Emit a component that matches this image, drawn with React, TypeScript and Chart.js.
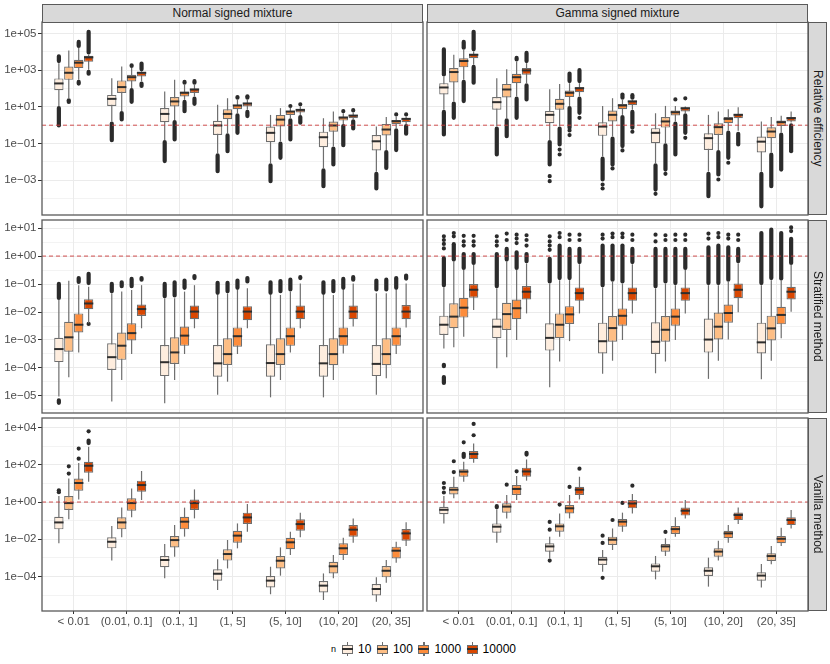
import { useEffect, useRef } from "react";
import { Chart, registerables } from "chart.js";
Chart.register(...registerables);

// all values are log10 of the plotted quantity
type Box = [number, number, number, number, number]; // lower whisker, q1, median, q3, upper whisker
type Seg = [number, number]; // run of outliers; a single dot when both ends are equal

const categories = ["< 0.01", "(0.01, 0.1]", "(0.1, 1]", "(1, 5]", "(5, 10]", "(10, 20]", "(20, 35]"];
const sampleSizes = ["10", "100", "1000", "10000"];
const columnLabels = ["Normal signed mixture", "Gamma signed mixture"];
const rowLabels = ["Relative efficiency", "Stratified method", "Vanilla method"];
const refValue = 1;

// ---------- Relative efficiency ----------
const relNormal: Box[][] = [
  [[1.05, 1.91, 2.22, 2.55, 3.38], [0.2, 1.05, 1.38, 1.65, 2.56], [-0.8, 0.16, 0.56, 0.93, 1.84], [-1.53, -0.53, -0.07, 0.24, 1.11], [-2.07, -0.93, -0.47, -0.07, 0.56], [-2.35, -1.2, -0.71, -0.35, 0.38], [-2.53, -1.38, -0.93, -0.53, -0.07]],
  [[1.47, 2.47, 2.8, 3.2, 4.07], [0.78, 1.75, 2.02, 2.44, 3.2], [0.29, 1.02, 1.24, 1.53, 2.47], [-0.44, 0.33, 0.56, 0.87, 1.47], [-0.89, -0.07, 0.25, 0.56, 0.93], [-1.16, -0.35, -0.07, 0.2, 0.75], [-1.35, -0.56, -0.29, 0.07, 0.44]],
  [[2.47, 3.11, 3.35, 3.56, 4.2], [2.02, 2.38, 2.56, 2.75, 3.11], [1.38, 1.56, 1.71, 1.84, 2.2], [0.65, 0.87, 1.02, 1.11, 1.38], [0.38, 0.56, 0.69, 0.78, 0.93], [0.07, 0.25, 0.36, 0.47, 0.65], [-0.16, 0.05, 0.16, 0.29, 0.47]],
  [[3.02, 3.45, 3.64, 3.78, 3.85], [2.38, 2.65, 2.8, 2.89, 2.93], [1.56, 1.75, 1.89, 2.0, 2.2], [0.84, 1.02, 1.13, 1.2, 1.38], [0.56, 0.69, 0.78, 0.87, 1.02], [0.33, 0.38, 0.47, 0.56, 0.69], [0.07, 0.16, 0.29, 0.38, 0.47]],
];
const relNormalOut: Seg[][][] = [
  [[[3.38, 3.87], [-0.13, 1.05]], [[-0.93, 0.2]], [[-2.07, -0.8]], [[-2.62, -1.53]], [[-3.16, -2.07]], [[-3.44, -2.35]], [[-3.56, -2.53]]],
  [[[1.15, 1.47]], [[0.2, 0.78]], [[-0.89, 0.29]], [[-1.53, -0.44]], [[-1.89, -0.89]], [[-2.25, -1.16]], [[-2.44, -1.35]]],
  [[[4.2, 4.65], [2.15, 2.47]], [[3.11, 3.38], [1.16, 2.02]], [[2.2, 2.47], [0.65, 1.38]], [[1.38, 1.65], [-0.53, 0.65]], [[0.93, 1.16], [-0.89, 0.38]], [[0.65, 0.84], [-1.2, 0.07]], [[0.47, 0.51], [-1.47, -0.16]]],
  [[[3.85, 5.2], [2.69, 3.02]], [[2.93, 3.47], [2.02, 2.38]], [[2.2, 2.51], [1.05, 1.56]], [[1.38, 1.69], [0.38, 0.84]], [[1.02, 1.16], [0.02, 0.56]], [[0.69, 0.93], [-0.29, 0.33]], [[0.47, 0.56], [-0.58, 0.07]]],
];
const relGamma: Box[][] = [
  [[0.84, 1.67, 2.0, 2.29, 2.65], [-0.07, 0.84, 1.2, 1.53, 2.56], [-0.8, 0.11, 0.51, 0.78, 1.96], [-1.71, -0.58, -0.13, 0.16, 1.05], [-2.07, -0.98, -0.47, -0.16, 0.65], [-2.53, -1.35, -0.76, -0.44, 0.56], [-2.53, -1.49, -0.95, -0.62, 0.2]],
  [[1.29, 2.33, 2.84, 3.11, 3.84], [0.38, 1.51, 1.89, 2.25, 3.05], [-0.07, 0.84, 1.11, 1.44, 2.25], [-0.62, 0.2, 0.51, 0.8, 1.47], [-0.98, -0.13, 0.15, 0.44, 1.05], [-1.35, -0.53, -0.16, 0.11, 0.75], [-1.49, -0.71, -0.4, -0.11, 0.44]],
  [[2.47, 3.15, 3.44, 3.65, 4.11], [1.56, 2.29, 2.56, 2.8, 3.47], [1.05, 1.53, 1.71, 1.89, 2.29], [0.56, 0.87, 1.02, 1.16, 1.38], [0.2, 0.53, 0.65, 0.8, 1.05], [-0.29, 0.11, 0.29, 0.44, 0.87], [-0.4, -0.04, 0.11, 0.25, 0.51]],
  [[3.29, 3.65, 3.78, 3.89, 4.02], [2.29, 2.75, 2.93, 3.11, 3.38], [1.56, 1.8, 1.96, 2.07, 2.29], [0.84, 1.09, 1.24, 1.35, 1.38], [0.65, 0.75, 0.87, 0.96, 1.02], [-0.3, 0.38, 0.51, 0.62, 0.98], [0.15, 0.2, 0.33, 0.44, 0.75]],
];
const relGammaOut: Seg[][][] = [
  [[[2.65, 4.24], [-0.62, 0.84]], [[-1.71, -0.07]], [[-2.25, -0.8], [-2.89, -2.89], [-3.16, -3.16]], [[-3.07, -1.71], [-3.35, -3.35], [-3.56, -3.56]], [[-3.62, -2.07], [-3.85, -3.85]], [[-3.98, -2.53]], [[-4.53, -2.53]]],
  [[[0.29, 1.29]], [[-0.71, 0.38]], [[-1.16, -0.07], [-1.44, -1.44], [-1.71, -1.71]], [[-2.25, -0.62], [-2.47, -2.47]], [[-2.53, -0.98], [-2.76, -2.76]], [[-2.8, -1.35], [-3.07, -3.07]], [[-3.44, -1.49]]],
  [[[4.11, 4.65], [1.2, 2.47]], [[3.47, 3.78], [0.29, 1.56]], [[2.29, 2.93], [-0.25, 1.05], [-0.4, -0.4], [-0.65, -0.65]], [[1.38, 1.78], [-1.25, 0.56], [-1.49, -1.49]], [[1.29, 1.29], [-1.71, 0.2]], [[-1.89, -0.29], [-2.16, -2.16]], [[-2.53, -0.4]]],
  [[[4.02, 5.2], [2.2, 3.29]], [[3.38, 4.05], [1.29, 2.29]], [[2.29, 3.11], [0.56, 1.56], [0.29, 0.29]], [[1.38, 1.75], [-0.25, 0.84], [-0.47, -0.47]], [[1.35, 1.35], [-0.53, 0.65], [-0.8, -0.8]], [[-1.16, -0.35]], [[-1.53, 0.1]]],
];

// ---------- Stratified method ----------
const stratNormal: Box[][] = [
  [[-5.02, -3.79, -3.36, -2.92, -1.57], [-5.2, -4.07, -3.65, -3.12, -1.33], [-5.26, -4.29, -3.83, -3.18, -1.51], [-4.96, -4.31, -3.87, -3.18, -1.39], [-5.05, -4.31, -3.86, -3.15, -1.39], [-5.05, -4.31, -3.87, -3.18, -1.39], [-4.96, -4.29, -3.89, -3.18, -1.33]],
  [[-4.33, -3.42, -2.94, -2.35, -0.88], [-4.43, -3.71, -3.24, -2.73, -1.27], [-4.43, -3.86, -3.48, -2.9, -1.51], [-4.49, -3.89, -3.54, -2.94, -1.33], [-4.43, -3.89, -3.54, -2.94, -1.39], [-4.43, -3.9, -3.54, -2.94, -1.39], [-4.37, -3.9, -3.54, -2.94, -1.33]],
  [[-3.45, -2.73, -2.49, -2.05, -1.04], [-3.5, -3.02, -2.79, -2.4, -1.21], [-3.5, -3.21, -2.88, -2.52, -1.27], [-3.5, -3.24, -2.9, -2.55, -1.21], [-3.45, -3.21, -2.9, -2.55, -1.27], [-3.48, -3.21, -2.9, -2.55, -1.21], [-3.5, -3.21, -2.9, -2.55, -1.21]],
  [[-2.4, -1.9, -1.73, -1.54, -1.1], [-2.58, -2.14, -1.93, -1.73, -1.04], [-2.58, -2.26, -2.02, -1.77, -1.04], [-2.58, -2.29, -2.02, -1.79, -1.15], [-2.58, -2.26, -2.02, -1.77, -0.98], [-2.52, -2.26, -2.02, -1.77, -0.98], [-2.55, -2.26, -2.02, -1.75, -0.98]],
];
const stratNormalOut: Seg[][][] = [
  [[[-1.57, -0.92], [-5.32, -5.08]], [[-1.33, -0.92]], [[-1.51, -0.92]], [[-1.39, -0.88]], [[-1.39, -0.86]], [[-1.39, -0.86]], [[-1.27, -0.8]]],
  [[], [[-1.15, -0.86]], [[-1.48, -0.86]], [[-1.33, -0.88]], [[-1.33, -0.82]], [[-1.33, -0.82]], [[-1.27, -0.77]]],
  [[[-1.0, -0.71]], [[-1.15, -0.74]], [[-1.21, -0.8]], [[-1.21, -0.8]], [[-1.27, -0.77]], [[-1.21, -0.74]], [[-1.21, -0.71]]],
  [[[-1.04, -0.56], [-2.5, -2.5]], [[-0.92, -0.71]], [[-0.86, -0.64]], [[-0.98, -0.71]], [[-0.86, -0.68]], [[-0.92, -0.68]], [[-0.88, -0.62]]],
];
const stratGamma: Box[][] = [
  [[-3.3, -2.82, -2.49, -2.13, -1.12], [-4.01, -2.94, -2.56, -2.23, -1.15], [-4.69, -3.38, -2.96, -2.4, -0.98], [-4.21, -3.48, -3.08, -2.38, -1.12], [-4.19, -3.5, -3.1, -2.37, -1.15], [-4.39, -3.45, -3.02, -2.23, -1.04], [-4.4, -3.48, -3.12, -2.38, -1.04]],
  [[-3.26, -2.58, -2.2, -1.69, -0.2], [-3.62, -2.64, -2.11, -1.67, -0.2], [-3.77, -2.94, -2.49, -2.05, -0.86], [-3.74, -3.06, -2.61, -2.14, -0.92], [-3.77, -3.06, -2.67, -2.14, -0.98], [-3.74, -2.98, -2.56, -2.02, -1.04], [-3.74, -3.02, -2.62, -2.13, -0.86]],
  [[-2.88, -2.2, -1.88, -1.49, -0.5], [-3.0, -2.26, -1.9, -1.55, -0.5], [-3.04, -2.43, -2.12, -1.79, -0.86], [-3.0, -2.49, -2.17, -1.87, -0.98], [-3.0, -2.49, -2.2, -1.87, -1.04], [-2.98, -2.38, -2.07, -1.73, -0.92], [-2.94, -2.44, -2.14, -1.81, -0.88]],
  [[-1.93, -1.49, -1.24, -1.0, -0.32], [-2.05, -1.55, -1.31, -1.07, -0.26], [-2.05, -1.6, -1.36, -1.12, -0.29], [-2.05, -1.6, -1.36, -1.12, -0.29], [-2.05, -1.6, -1.36, -1.12, -0.5], [-2.01, -1.51, -1.24, -0.98, -0.26], [-1.99, -1.55, -1.31, -1.1, -0.32]],
];
const stratGammaOut: Seg[][][] = [
  [[[-1.12, 0.0], [0.2, 0.2], [0.36, 0.36], [0.5, 0.5], [0.63, 0.63], [-4.01, -3.81], [-4.61, -4.25]], [[-1.15, 0.15], [0.3, 0.3], [0.45, 0.45], [0.63, 0.63]], [[-0.98, -0.02], [0.15, 0.15], [0.3, 0.3], [0.45, 0.45], [0.63, 0.63]], [[-1.12, 0.45], [0.55, 0.55], [0.69, 0.69]], [[-1.15, 0.33], [0.45, 0.45], [0.69, 0.69]], [[-1.04, 0.39], [0.55, 0.55], [0.73, 0.73]], [[-1.04, 0.9]]],
  [[[-0.2, 0.5], [0.63, 0.63], [0.75, 0.75]], [[-0.2, 0.33], [0.5, 0.5], [0.73, 0.73]], [[-0.86, 0.45], [0.6, 0.6], [0.75, 0.75]], [[-0.92, 0.45], [0.6, 0.6], [0.73, 0.73]], [[-0.98, 0.33], [0.5, 0.5], [0.67, 0.67]], [[-1.04, 0.45], [0.6, 0.6], [0.75, 0.75]], [[-0.86, 1.02]]],
  [[[-0.5, 0.15], [0.3, 0.3], [0.45, 0.45], [0.65, 0.65]], [[-0.5, 0.21], [0.39, 0.39], [0.55, 0.55], [0.69, 0.69]], [[-0.86, 0.33], [0.5, 0.5], [0.69, 0.69]], [[-0.98, 0.45], [0.6, 0.6], [0.73, 0.73]], [[-1.04, 0.33], [0.5, 0.5], [0.69, 0.69]], [[-0.92, 0.39], [0.55, 0.55], [0.69, 0.69]], [[-0.88, 0.9]]],
  [[[-0.32, 0.15], [0.3, 0.3], [0.45, 0.45], [0.65, 0.65]], [[-0.26, 0.15], [0.3, 0.3], [0.5, 0.5], [0.67, 0.67]], [[-0.29, 0.33], [0.5, 0.5], [0.69, 0.69]], [[-0.29, 0.33], [0.5, 0.5], [0.69, 0.69]], [[-0.5, 0.33], [0.5, 0.5], [0.69, 0.69]], [[-0.26, 0.33], [0.5, 0.5], [0.69, 0.69]], [[-0.32, 0.69], [0.82, 0.82], [0.95, 0.95]]],
];

// ---------- Vanilla method ----------
const vanNormal: Box[][] = [
  [[-2.22, -1.47, -1.15, -0.79, 0.32], [-3.15, -2.49, -2.19, -1.9, -1.29], [-4.1, -3.51, -3.17, -2.9, -2.26], [-4.73, -4.23, -3.91, -3.62, -3.08], [-4.96, -4.59, -4.28, -3.98, -3.48], [-5.27, -4.86, -4.55, -4.25, -3.84], [-5.36, -5.02, -4.73, -4.41, -4.05]],
  [[-0.93, -0.43, -0.11, 0.32, 1.27], [-1.9, -1.47, -1.15, -0.82, -0.3], [-2.94, -2.44, -2.1, -1.83, -1.24], [-3.57, -3.15, -2.85, -2.54, -2.04], [-3.96, -3.57, -3.21, -2.9, -2.44], [-4.1, -3.84, -3.51, -3.21, -2.85], [-4.34, -4.05, -3.75, -3.44, -3.12]],
  [[0.14, 0.61, 0.97, 1.27, 2.1], [-0.82, -0.47, -0.11, 0.2, 0.73], [-1.86, -1.47, -1.11, -0.79, -0.3], [-2.49, -2.19, -1.86, -1.54, -1.15], [-2.85, -2.54, -2.22, -1.92, -1.6], [-3.12, -2.85, -2.54, -2.22, -1.92], [-3.26, -3.03, -2.67, -2.4, -2.13]],
  [[1.09, 1.58, 1.9, 2.17, 2.97], [0.11, 0.56, 0.86, 1.15, 1.67], [-0.88, -0.43, -0.11, 0.14, 0.68], [-1.6, -1.18, -0.88, -0.57, -0.11], [-1.9, -1.54, -1.24, -0.93, -0.57], [-2.19, -1.86, -1.54, -1.24, -0.88], [-2.37, -2.08, -1.74, -1.45, -1.09]],
];
const vanNormalOut: Seg[][][] = [
  [[[0.42, 0.42], [0.52, 0.52]], [], [], [], [], [], []],
  [[[1.42, 1.42], [1.81, 1.81]], [], [], [], [], [], []],
  [[[2.22, 2.44], [2.76, 2.76]], [], [], [], [], [], []],
  [[[3.06, 3.42], [3.69, 3.69]], [], [], [], [], [], []],
];
const vanGamma: Box[][] = [
  [[-1.15, -0.66, -0.47, -0.25, 0.32], [-2.19, -1.65, -1.38, -1.15, -0.39], [-3.03, -2.67, -2.44, -2.22, -1.86], [-3.75, -3.39, -3.15, -2.94, -2.58], [-4.16, -3.75, -3.51, -3.3, -2.9], [-4.55, -3.98, -3.75, -3.51, -2.99], [-4.59, -4.23, -4.01, -3.78, -3.33]],
  [[0.2, 0.41, 0.61, 0.82, 1.36], [-0.88, -0.57, -0.3, -0.07, 0.38], [-1.86, -1.6, -1.36, -1.15, -0.61], [-2.58, -2.31, -2.08, -1.86, -1.42], [-2.9, -2.67, -2.44, -2.26, -1.95], [-3.15, -2.94, -2.72, -2.49, -2.08], [-3.35, -3.17, -2.96, -2.76, -2.37]],
  [[1.09, 1.36, 1.58, 1.76, 2.17], [0.11, 0.38, 0.65, 0.91, 1.4], [-0.88, -0.61, -0.39, -0.16, 0.38], [-1.6, -1.33, -1.11, -0.91, -0.57], [-1.86, -1.72, -1.51, -1.29, -0.82], [-2.19, -1.95, -1.74, -1.54, -1.24], [-2.37, -2.22, -2.03, -1.83, -1.38]],
  [[2.11, 2.31, 2.53, 2.74, 3.15], [1.15, 1.36, 1.59, 1.85, 2.29], [0.14, 0.38, 0.61, 0.82, 1.36], [-0.61, -0.34, -0.13, 0.11, 0.43], [-0.88, -0.73, -0.52, -0.3, 0.11], [-1.18, -0.97, -0.75, -0.56, -0.3], [-1.42, -1.24, -1.02, -0.82, -0.43]],
];
const vanGammaOut: Seg[][][] = [
  [[[0.4, 0.4], [0.65, 0.65], [0.91, 0.91]], [[-0.39, -0.11]], [[-1.18, -1.18], [-1.6, -1.6], [-3.26, -3.26]], [[-1.92, -1.92], [-2.31, -2.31], [-4.19, -4.19]], [], [], []],
  [[[1.5, 1.72], [2.08, 2.08]], [[0.82, 0.82]], [[-0.25, -0.25]], [[-1.08, -1.08]], [[-1.72, -1.72]], [], []],
  [[[2.31, 2.71], [3.1, 3.1]], [[1.54, 1.76]], [[0.7, 0.7]], [[-0.16, -0.16]], [], [], []],
  [[[3.48, 3.69], [4.09, 4.09]], [[2.44, 2.76]], [[1.68, 1.68]], [[0.77, 0.77]], [], [], []],
];

// y limits and breaks per row (log10)
const rowRanges: [number, number][] = [[-4.89, 5.62], [-5.61, 1.29], [-5.86, 4.52]];
const rowMajors = [[-3, -1, 1, 3, 5], [-5, -4, -3, -2, -1, 0, 1], [-4, -2, 0, 2, 4]];
const rowMinors = [[-4, -2, 0, 2, 4], [-5.5, -4.5, -3.5, -2.5, -1.5, -0.5, 0.5], [-5, -3, -1, 1, 3]];

const panels = [
  [[relNormal, relNormalOut], [relGamma, relGammaOut]],
  [[stratNormal, stratNormalOut], [stratGamma, stratGammaOut]],
  [[vanNormal, vanNormalOut], [vanGamma, vanGammaOut]],
] as [Box[][], Seg[][][]][][];

const FONT = "'Liberation Sans', Arial, Helvetica, sans-serif";
const FILLS = ["#FEEDDE", "#FDBE85", "#FD8D3C", "#D94701"];
const EDGE = "#6e6e6e";
const MEDIAN = "#2e2e2e";
const POINT = "#2b2b2b";
const GRID = "#EBEBEB";
const FRAME = "#5a5a5a";
const AXIS_TEXT = "#4D4D4D";

const COL_X = [42, 427];
const ROW_Y = [22, 220, 418];
const PANEL_W = 381;
const PANEL_H = 193;
const Y_AXIS_W = 42;
const X_AXIS_H = 24;
const X_MIN = -0.6;
const X_MAX = categories.length - 0.4;

const pow = (e: number) => Math.pow(10, e);
const fmtSci = (e: number) => `1e${e < 0 ? "\u2212" : "+"}${String(Math.abs(e)).padStart(2, "0")}`;

const framePlugin = {
  id: "panelFrame",
  afterDraw(chart: any) {
    const { ctx, chartArea: a } = chart;
    ctx.save();
    ctx.strokeStyle = FRAME;
    ctx.lineWidth = 1.3;
    ctx.strokeRect(a.left, a.top, a.right - a.left, a.bottom - a.top);
    ctx.restore();
  },
};

function buildDatasets(boxes: Box[][], outliers: Seg[][][]) {
  const sets: any[] = [];
  sets.push({
    type: "line",
    data: [{ x: X_MIN, y: refValue }, { x: X_MAX, y: refValue }],
    borderColor: "rgba(204,60,60,0.9)",
    borderWidth: 1,
    borderDash: [4, 3],
    pointRadius: 0,
  });
  const common = (k: number) => ({ stack: "n" + k, categoryPercentage: 0.75, barPercentage: 0.94 });
  // medians first so they sit on top of the boxes
  boxes.forEach((series, k) => {
    sets.push({
      ...common(k),
      backgroundColor: MEDIAN,
      minBarLength: 2,
      data: series.map((b, i) => ({ x: i, y: [pow(b[2]), pow(b[2])] })),
    });
  });
  boxes.forEach((series, k) => {
    sets.push({
      ...common(k),
      backgroundColor: FILLS[k],
      borderColor: EDGE,
      borderWidth: 1.2,
      borderSkipped: false,
      data: series.map((b, i) => ({ x: i, y: [pow(b[1]), pow(b[3])] })),
    });
  });
  boxes.forEach((series, k) => {
    sets.push({
      ...common(k),
      backgroundColor: EDGE,
      maxBarThickness: 1.2,
      data: series.map((b, i) => ({ x: i, y: [pow(b[0]), pow(b[4])] })),
    });
  });
  outliers.forEach((series, k) => {
    const most = Math.max(...series.map((s) => s.length));
    for (let j = 0; j < most; j++) {
      const data = series.flatMap((segs, i) => (segs[j] ? [{ x: i, y: [pow(segs[j][0]), pow(segs[j][1])] }] : []));
      if (!data.length) continue;
      sets.push({
        ...common(k),
        backgroundColor: POINT,
        maxBarThickness: 4.2,
        minBarLength: 4.2,
        borderRadius: 2.1,
        borderSkipped: false,
        data,
      });
    }
  });
  return sets;
}

function Panel({ row, col }: { row: number; col: number }) {
  const ref = useRef<HTMLCanvasElement | null>(null);
  const showY = col === 0;
  const showX = row === 2;
  const padL = showY ? 0 : 2;
  const width = (showY ? Y_AXIS_W : padL) + PANEL_W + 2;
  const height = 2 + PANEL_H + (showX ? X_AXIS_H : 2);
  const left = showY ? 0 : COL_X[col] - padL;
  const top = ROW_Y[row] - 2;

  useEffect(() => {
    const [boxes, outs] = panels[row][col];
    const majors = rowMajors[row];
    const isMajor = (v: number) => majors.some((m) => Math.abs(Math.log10(v) - m) < 1e-6);
    const ticks = [...rowMinors[row], ...majors].sort((a, b) => a - b);
    const chart = new Chart(ref.current!, {
      type: "bar",
      data: { datasets: buildDatasets(boxes, outs) },
      plugins: [framePlugin],
      options: {
        responsive: false,
        animation: false,
        events: [],
        layout: { padding: { left: padL, right: 2, top: 2, bottom: showX ? 0 : 2 } },
        plugins: { legend: { display: false }, tooltip: { enabled: false } },
        scales: {
          x: {
            type: "linear",
            min: X_MIN,
            max: X_MAX,
            offset: false,
            afterBuildTicks: (s: any) => {
              s.ticks = categories.map((_, i) => ({ value: i }));
            },
            afterFit: (s: any) => {
              s.height = showX ? X_AXIS_H : 0;
              s.paddingLeft = 0;
              s.paddingRight = 0;
            },
            border: { display: false },
            grid: { color: GRID, lineWidth: 1, offset: false, drawTicks: showX, tickLength: 3, tickColor: "#333" },
            ticks: {
              display: showX,
              autoSkip: false,
              maxRotation: 0,
              padding: 1,
              color: AXIS_TEXT,
              font: { family: FONT, size: 11.5 },
              callback: (v: any) => categories[v] ?? "",
            },
          },
          y: {
            type: "logarithmic",
            min: pow(rowRanges[row][0]),
            max: pow(rowRanges[row][1]),
            stacked: false,
            afterBuildTicks: (s: any) => {
              s.ticks = ticks.map((e) => ({ value: pow(e) }));
            },
            afterFit: (s: any) => {
              s.width = showY ? Y_AXIS_W : 0;
              s.paddingTop = 0;
              s.paddingBottom = 0;
            },
            border: { display: false },
            grid: {
              color: GRID,
              lineWidth: (c: any) => (c.tick && !isMajor(c.tick.value) ? 0.6 : 1),
              drawTicks: showY,
              tickLength: 4,
              tickColor: (c: any) => (c.tick && isMajor(c.tick.value) ? "#333" : "rgba(0,0,0,0)"),
            },
            ticks: {
              display: showY,
              autoSkip: false,
              padding: 1.5,
              color: AXIS_TEXT,
              font: { family: FONT, size: 11.5 },
              callback: (v: any) => (isMajor(v) ? fmtSci(Math.round(Math.log10(v))) : ""),
            },
          },
        },
      } as any,
    });
    return () => chart.destroy();
  }, [row, col]);

  return (
    <canvas
      ref={ref}
      width={width}
      height={height}
      style={{ position: "absolute", left, top, width, height }}
    />
  );
}

function LegendKey({ color }: { color: string }) {
  return (
    <div style={{ position: "relative", width: 11, height: 14 }}>
      <div style={{ position: "absolute", left: 5, top: 0, width: 1.2, height: 14, background: EDGE }} />
      <div
        style={{
          position: "absolute", left: 0, top: 2.5, width: 11, height: 9, boxSizing: "border-box",
          background: color, border: `1px solid ${EDGE}`,
        }}
      />
      <div style={{ position: "absolute", left: 0, top: 6, width: 11, height: 2, background: MEDIAN }} />
    </div>
  );
}

export default function App() {
  return (
    <div style={{ position: "absolute", left: 0, top: 0, width: 830, height: 664, background: "#fff", fontFamily: FONT, overflow: "hidden" }}>
      {[0, 1, 2].map((r) => [0, 1].map((c) => <Panel key={`${r}-${c}`} row={r} col={c} />))}
      {columnLabels.map((label, c) => (
        <div
          key={label}
          style={{
            position: "absolute", left: COL_X[c], top: 4, width: PANEL_W, height: 19, boxSizing: "border-box",
            background: "#D9D9D9", border: `1px solid ${FRAME}`, color: "#1A1A1A", fontSize: 12,
            lineHeight: "17px", textAlign: "center",
          }}
        >
          {label}
        </div>
      ))}
      {rowLabels.map((label, r) => (
        <div
          key={label}
          style={{
            position: "absolute", left: COL_X[1] + PANEL_W, top: ROW_Y[r], width: 19, height: PANEL_H, boxSizing: "border-box",
            background: "#D9D9D9", border: `1px solid ${FRAME}`, color: "#1A1A1A", fontSize: 12,
            display: "flex", alignItems: "center", justifyContent: "center",
          }}
        >
          <span style={{ writingMode: "vertical-rl", whiteSpace: "nowrap" }}>{label}</span>
        </div>
      ))}
      <div style={{ position: "absolute", left: 331, top: 641, height: 16, display: "flex", alignItems: "center" }}>
        <span style={{ fontSize: 9, color: "#000", marginRight: 6 }}>n</span>
        {sampleSizes.map((s, k) => (
          <div key={s} style={{ display: "flex", alignItems: "center", marginRight: 5.5 }}>
            <LegendKey color={FILLS[k]} />
            <span style={{ fontSize: 12, color: "#000", marginLeft: 5 }}>{s}</span>
          </div>
        ))}
      </div>
    </div>
  );
}
